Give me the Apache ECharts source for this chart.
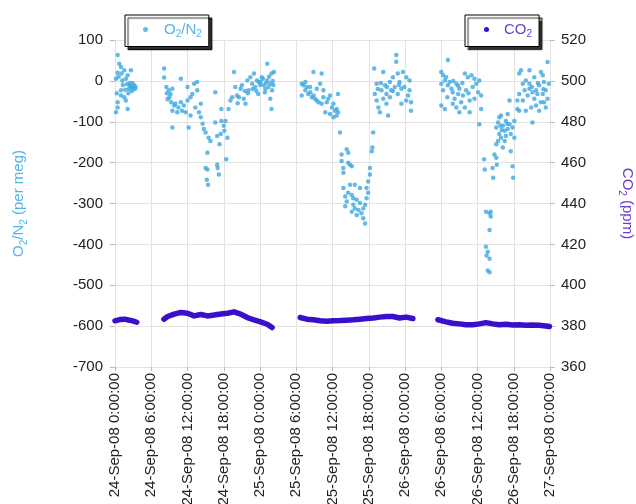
<!DOCTYPE html>
<html>
<head>
<meta charset="utf-8">
<script src="https://cdn.jsdelivr.net/npm/echarts@6/dist/echarts.min.js"></script>
<style>
  html, body { margin: 0; padding: 0; background: #fff; }
  #main { width: 636px; height: 504px; }
</style>
</head>
<body>
<div id="main"></div>
<script>
// x is hours since 24-Sep-08 0:00:00
var xTickLabels = ['24-Sep-08 0:00:00', '24-Sep-08 6:00:00', '24-Sep-08 12:00:00', '24-Sep-08 18:00:00',
  '25-Sep-08 0:00:00', '25-Sep-08 6:00:00', '25-Sep-08 12:00:00', '25-Sep-08 18:00:00',
  '26-Sep-08 0:00:00', '26-Sep-08 6:00:00', '26-Sep-08 12:00:00', '26-Sep-08 18:00:00',
  '27-Sep-08 0:00:00'];

// O2/N2 (per meg) samples [hour, value]
var o2n2Points = [
  [0.44,63],[0.7,42],[0.99,34],[0.44,20],[1.54,26],[2.09,14],[0.16,5],[1.2,1],[2.64,26],[2.4,-5],
  [2.5,-12],[2.3,-20],[2.64,-15],[2.8,-25],[3.0,-18],[3.19,-11],[3.3,-20],[0.99,-23],[0.99,-36],[1.54,-40],
  [1.8,-48],[0.44,-52],[2.09,-69],[0.16,-77],[0.44,-65],[0.3,-30],[0.6,10],[1.3,-10],[1.8,5],[2.2,-30],
  [2.9,-5],[3.4,-15],[1.1,18],[1.7,-22],[2.0,-8],
  [8.13,30],[8.13,8],[8.5,-15],[8.6,-30],[8.7,-45],[8.9,-23],[9.0,-40],[9.2,-32],[9.3,-52],[9.5,-19],
  [9.5,-73],[9.8,-60],[9.5,-114],[10.0,-56],[10.3,-77],[10.5,-65],[10.9,5],[10.9,-52],[11.1,-73],[11.4,-60],
  [11.7,-77],[12.0,-48],[12.0,-15],[12.2,-114],[12.5,-85],[12.5,-40],[12.8,-32],[13.1,-7],[13.3,-65],[13.6,-23],
  [13.6,-3],[13.9,-77],[14.2,-56],[14.2,-89],[14.5,-105],[14.7,-118],[15.0,-126],[15.5,-139],[15.3,-176],[15.8,-147],
  [15.0,-213],[15.3,-217],[15.2,-242],[15.4,-254],[16.6,-28],[16.6,-102],[16.9,-135],[16.9,-205],[17.0,-213],[17.2,-229],
  [17.3,-155],[17.5,-130],[17.6,-98],[18.0,-110],[18.1,-122],[18.3,-98],[18.4,-192],[18.6,-139],[17.6,-69],[18.8,-69],
  [19.1,-48],[19.4,-40],[19.7,22],[19.9,-15],[20.2,-36],[20.5,-40],[20.8,-19],[21.0,-11],[21.3,-44],[21.6,-56],
  [21.9,1],[22.1,-23],[22.4,9],[22.7,-7],[23.0,18],[23.2,-15],[23.5,1],[23.7,-32],[24.1,-3],[24.3,9],
  [24.6,-11],[24.9,-19],[25.2,42],[25.2,1],[25.4,-15],[25.7,-7],[25.9,18],[25.9,-69],[26.3,22],[26.0,-23],
  [25.7,-44],[22.0,-30],[22.8,-20],[23.4,-25],[24.0,-10],[24.5,5],[25.0,-5],[25.5,10],[26.1,0],[21.5,-25],
  [20.3,-55],[23.8,-2],[24.8,-28],[26.2,-10],
  [30.9,-7],[31.2,-11],[31.5,-23],[31.75,-15],[32.0,-32],[32.3,-28],[32.6,-40],[32.85,22],[32.85,-36],[33.1,-44],
  [33.4,-48],[33.7,-52],[33.95,-7],[34.2,18],[34.2,-56],[34.5,-40],[34.5,-23],[34.8,-77],[35.05,-52],[35.3,-44],
  [35.6,-36],[35.6,-81],[35.9,-65],[36.15,-56],[36.4,-73],[36.7,-69],[36.9,-77],[36.15,-89],[36.7,-85],[36.9,-32],
  [30.9,-36],[31.5,-3],[33.4,-19],[32.3,-15],
  [37.24,-126],[37.5,-180],[37.5,-196],[37.8,-213],[37.8,-225],[38.35,-167],[38.6,-176],[38.6,-200],[38.9,-205],[39.2,-209],
  [37.8,-262],[38.1,-283],[38.35,-295],[38.6,-274],[38.9,-254],[39.2,-279],[39.44,-303],[39.44,-287],[39.7,-312],[40.0,-291],
  [40.3,-316],[40.54,-262],[40.54,-299],[40.8,-324],[41.1,-336],[41.4,-349],[41.4,-303],[41.64,-287],[41.64,-262],[41.9,-246],
  [41.9,-274],[42.2,-229],[42.2,-213],[42.5,-172],[42.6,-163],[42.74,-126],[40.0,-328],[39.2,-320],[38.1,-307],[41.1,-312],
  [39.7,-254],
  [42.9,30],[43.3,-7],[43.0,-32],[43.3,-48],[43.6,-65],[43.84,-77],[44.1,-23],[44.4,22],[44.4,-44],[44.7,-11],
  [44.93,-32],[44.93,-56],[45.2,-85],[45.5,-3],[45.5,-40],[45.7,-23],[46.0,9],[46.3,-15],[46.55,63],[46.55,47],
  [46.8,18],[46.8,-32],[47.1,-3],[47.4,-56],[47.65,22],[47.9,-15],[48.2,9],[48.5,-36],[48.75,1],[49.0,-52],
  [49.0,-73],[48.75,-23],[48.2,-48],[47.4,-19],[44.0,-5],[45.0,-15],[46.0,-25],[47.0,-10],[43.5,-20],
  [55.1,51],[54.0,22],[54.3,14],[54.6,1],[54.8,9],[54.0,-7],[54.3,-23],[55.1,-11],[55.4,-3],[55.7,-19],
  [55.9,-28],[54.0,-60],[54.6,-69],[56.2,-44],[56.5,-7],[56.8,-32],[57.0,-19],[57.0,-77],[57.3,-52],[57.6,-36],
  [57.9,18],[57.9,-65],[58.1,-23],[58.4,9],[58.7,-48],[58.7,-77],[59.0,14],[59.2,-15],[59.5,-44],[59.8,-7],
  [60.1,-28],[60.3,1],[60.6,-36],[60.6,-69],[60.3,-106],[55.9,-56],[56.5,-65],[55.0,-40],[56.0,0],[57.5,-5],
  [58.5,-30],[59.5,5],[56.8,-12],
  [61.1,-192],[61.2,-217],[62.5,-213],[62.6,-237],[61.4,-320],[62.0,-324],[62.2,-332],[62.0,-365],[61.4,-406],[61.7,-418],
  [62.0,-435],[61.7,-464],[62.0,-468],[62.2,-320],[61.5,-427],
  [63.1,-114],[63.4,-102],[63.6,-89],[63.9,-85],[64.2,-110],[64.5,-122],[64.7,-98],[65.0,-118],[65.3,-106],[65.5,-130],
  [65.8,-114],[66.1,-139],[66.1,-98],[63.4,-147],[63.1,-155],[63.9,-139],[64.5,-147],[64.2,-163],[62.8,-180],[63.1,-188],
  [63.2,-205],[65.3,-48],[65.5,-172],[65.8,-209],[65.9,-237],[65.0,-81],[64.7,-135],[63.6,-130],[64.0,-120],[64.9,-105],
  [63.8,-110],
  [66.6,-69],[66.9,18],[67.2,26],[67.5,-7],[66.9,-32],[66.6,-48],[67.5,-48],[67.8,-23],[68.0,1],[68.3,-36],
  [68.6,-19],[68.6,-7],[68.9,-65],[69.1,-28],[69.1,-102],[69.4,9],[69.4,-44],[69.7,-23],[69.7,-60],[69.9,-32],
  [70.2,-11],[70.2,-73],[70.5,22],[70.5,-52],[70.8,14],[70.8,-32],[71.0,-3],[71.0,-52],[71.3,-23],[71.3,-65],
  [71.6,46],[71.6,-44],[71.8,-7],[68.0,-73],[66.9,-73],[68.6,26],[69.0,-15],[70.0,-5],[70.9,-20]
];

// CO2 (ppm) samples [hour, value]; '-' marks the gaps between runs
var co2Points = [
  [0,382.6],[0.8,383.2],[1.6,383.4],[2.4,382.9],[3.2,382.3],[3.6,381.9],
  [5.5,'-'],
  [8.1,383.4],[8.7,384.7],[9.8,385.9],[10.9,386.7],[12.0,386.3],[13.1,385.0],[14.2,385.7],[15.3,385.0],
  [16.4,385.4],[17.5,385.9],[18.6,386.3],[19.7,387.0],[20.8,385.9],[21.9,384.2],[23.0,383.1],[24.1,382.1],
  [25.2,380.9],[26.0,379.3],
  [28.0,'-'],
  [30.65,384.2],[31.75,383.4],[32.85,383.1],[33.95,382.6],[35.05,382.4],[36.15,382.6],[37.24,382.7],[38.35,382.9],
  [39.44,383.1],[40.54,383.4],[41.64,383.7],[42.74,384.0],[43.84,384.4],[44.93,384.7],[46.0,384.7],[47.1,384.0],
  [48.2,384.4],[49.3,383.7],
  [51.0,'-'],
  [53.45,383.1],[54.8,382.1],[55.9,381.4],[57.0,381.1],[58.1,380.7],[59.2,380.7],[60.3,381.1],[61.4,381.7],
  [62.5,381.1],[63.6,380.7],[64.7,380.9],[65.8,380.6],[66.9,380.7],[68.0,380.4],[69.1,380.6],[70.2,380.4],
  [71.3,380.1],[71.9,379.8]
];

var o2Color = '#3ea8e0';
var co2Color = '#3a0fcc';
var labelFont = 'Arial, "Liberation Sans", sans-serif';

var subRich = function (color) {
  return {
    m: { fontSize: 15, lineHeight: 20, color: color, fontFamily: labelFont },
    s: { fontSize: 10, lineHeight: 10, verticalAlign: 'bottom', color: color, fontFamily: labelFont }
  };
};

var legendBox = {
  orient: 'horizontal',
  backgroundColor: '#fff',
  borderColor: '#000',
  borderWidth: 1,
  borderRadius: 0,
  shadowColor: 'rgba(0,0,0,0.8)',
  shadowBlur: 1,
  shadowOffsetX: 3,
  shadowOffsetY: 3,
  icon: 'circle',
  itemWidth: 5,
  itemHeight: 5
};

var myChart = echarts.init(document.getElementById('main'));
myChart.setOption({
  animation: false,
  backgroundColor: '#fff',
  textStyle: { fontFamily: labelFont },
  grid: { left: 115, right: 86, top: 40, bottom: 137, outerBoundsMode: 'none' },
  legend: [
    Object.assign({}, legendBox, {
      left: 125, top: 15,
      padding: [7, 7, 7, 18],
      data: ['O2/N2'],
      formatter: function () { return '{m|O}{s|2}{m|/N}{s|2}'; },
      textStyle: { padding: [0, 0, 0, 11], rich: subRich('#55b5e6') }
    }),
    Object.assign({}, legendBox, {
      left: 465, top: 15,
      padding: [7, 7, 7, 19],
      data: ['CO2'],
      formatter: function () { return '{m|CO}{s|2}'; },
      textStyle: { padding: [0, 0, 0, 10], rich: subRich('#6a3fd3') }
    })
  ],
  xAxis: {
    type: 'value',
    min: 0,
    max: 72,
    interval: 6,
    axisLine: { show: false, onZero: false },
    axisTick: { show: true, length: 4, lineStyle: { color: '#bbb' } },
    axisLabel: {
      rotate: 90,
      margin: 6,
      fontSize: 15,
      color: '#222',
      fontFamily: labelFont,
      formatter: function (v) { return xTickLabels[Math.round(v / 6)]; }
    },
    splitLine: { show: true, lineStyle: { color: '#e2e2e2' } }
  },
  yAxis: [
    {
      type: 'value',
      min: -700,
      max: 100,
      interval: 100,
      name: '{m|O}{s|2}{m|/N}{s|2}{m| (per meg)}',
      nameLocation: 'middle',
      nameGap: 86,
      nameTextStyle: { rich: subRich('#55b5e6') },
      axisLine: { show: false },
      axisTick: { show: true, length: 5, lineStyle: { color: '#bbb' } },
      axisLabel: { margin: 12, fontSize: 15, color: '#222', fontFamily: labelFont },
      splitLine: { show: true, lineStyle: { color: '#e2e2e2' } }
    },
    {
      type: 'value',
      position: 'right',
      min: 360,
      max: 520,
      interval: 20,
      name: '{m|CO}{s|2}{m| (ppm)}',
      nameLocation: 'middle',
      nameRotate: -90,
      nameGap: 67,
      nameTextStyle: { rich: subRich('#6a3fd3') },
      axisLine: { show: false },
      axisTick: { show: true, length: 5, lineStyle: { color: '#bbb' } },
      axisLabel: { margin: 11, fontSize: 15, color: '#222', fontFamily: labelFont },
      splitLine: { show: false }
    }
  ],
  series: [
    {
      name: 'O2/N2',
      type: 'scatter',
      yAxisIndex: 0,
      symbol: 'circle',
      symbolSize: 4.5,
      itemStyle: { color: o2Color },
      data: o2n2Points
    },
    {
      name: 'CO2',
      type: 'line',
      yAxisIndex: 1,
      showSymbol: false,
      symbol: 'circle',
      connectNulls: false,
      itemStyle: { color: co2Color },
      lineStyle: { color: co2Color, width: 5.5, cap: 'round', join: 'round' },
      data: co2Points
    }
  ]
});
</script>
</body>
</html>
